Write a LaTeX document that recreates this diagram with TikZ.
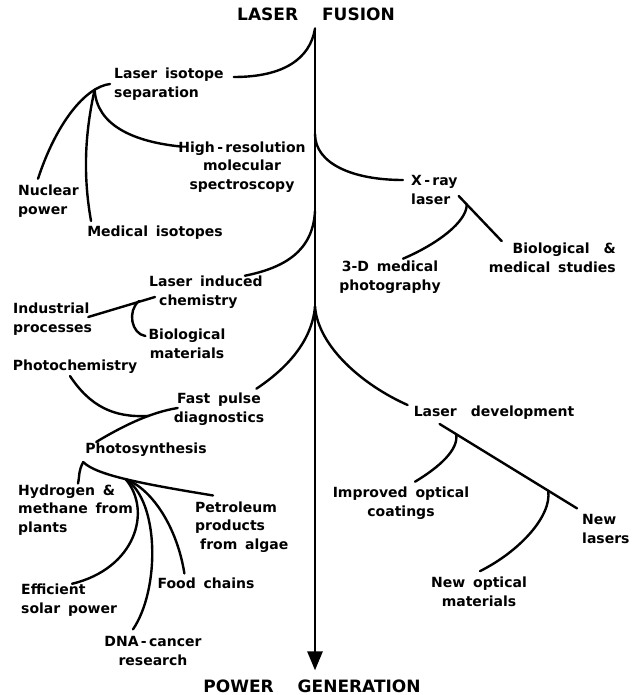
\documentclass[tikz,border=0pt]{standalone}
\usepackage{fontspec}
\setmainfont{DejaVu Sans}[WordSpace=1.6]
\usetikzlibrary{arrows.meta,calc}

\begin{document}
\begin{tikzpicture}[x=1pt,y=-1pt,line width=2.4pt,line cap=round,
    >={Triangle[length=19pt,width=15pt]},
    app node/.style={font=\fontsize{14}{18.5}\selectfont\bfseries,inner sep=1pt},
    end node/.style={font=\fontsize{17}{20}\selectfont\bfseries,inner sep=2pt}]

  \useasboundingbox (0,0) rectangle (639,695);

  \node[end node] (fusion) at (316,14) {LASER\hspace{24pt}FUSION};
  \node[end node] (power) at (312,686) {POWER\hspace{24pt}GENERATION};

  \node[app node,anchor=west,align=left] (lis) at (112,84) {Laser isotope\\separation};
  \node[app node,anchor=west,align=left] (nuc) at (16,201) {Nuclear\\power};
  \node[app node] (med) at (155,233) {Medical isotopes};
  \node[app node,align=center] (hres) at (242,167) {High\,-\,resolution\\molecular\\spectroscopy};
  \node[app node,anchor=west,align=left] (xray) at (409,190) {X\,-\,ray\\laser};
  \node[app node,align=center] (phot3d) at (390,277) {3-D medical\\photography};
  \node[app node,anchor=east,align=right] (bio) at (618,258) {Biological\quad\&\\medical studies};
  \node[app node,anchor=west,align=left] (lic) at (147,292) {Laser induced\\\hspace*{10pt}chemistry};
  \node[app node,anchor=west,align=left] (ind) at (11,319) {Industrial\\processes};
  \node[app node,align=center] (biom) at (187,344) {Biological\\materials};
  \node[app node] (photochem) at (75,367) {Photochemistry};
  \node[app node,align=center] (fpd) at (219,409) {Fast pulse\\diagnostics};
  \node[app node] (psyn) at (146,450) {Photosynthesis};
  \node[app node,anchor=west,align=left] (hyd) at (16,510) {Hydrogen \&\\methane from\\plants};
  \node[app node,anchor=west,align=left] (petro) at (193,527) {Petroleum\\products\\\hspace*{5pt}from algae};
  \node[app node] (food) at (206,583) {Food chains};
  \node[app node,anchor=west,align=left] (eff) at (19,600) {Efficient\\solar power};
  \node[app node,align=center] (dna) at (153,651) {DNA\,-\,cancer\\research};
  \node[app node] (ldev) at (494,413) {Laser\hspace{14pt}development};
  \node[app node,align=center] (ioc) at (401,503) {Improved optical\\coatings};
  \node[app node,anchor=west,align=left] (newl) at (580,529) {New\\lasers};
  \node[app node,align=center] (nom) at (479,592) {New optical\\materials};

  % main line
  \coordinate (top) at ($(fusion.south)+(-1,5)$);
  \coordinate (tip) at ($(top |- power.north)+(0,-6)$);
  \draw[line width=2.8pt,->] (top) -- (tip)
    coordinate[pos=.164] (xfork) coordinate[pos=.284] (cfork) coordinate[pos=.433] (dfork);

  % isotope separation
  \draw (top) .. controls +(-5,30) and +(50,0) .. ($(lis.east)+(8,-7)$);
  \draw ($(lis.west)+(-2,0)$) .. controls +(-25,3) and +(18,-55) .. ($(nuc.north west)+(22,-4)$)
    coordinate[pos=.2] (lisfork);
  \draw (lisfork) .. controls +(-10,45) and +(-8,-45) .. ($(med.north west)+(6,-3)$);
  \draw (lisfork) .. controls +(2,35) and +(-48,-5) .. ($(hres.north west)+(4,7)$);

  % x-ray laser
  \draw (xfork) .. controls +(0,30) and +(-50,0) .. ($(xray.west)+(-6,-10)$);
  \draw ($(xray.south east)+(7,-2)$) .. controls +(0,17) and +(35,-15) .. ($(phot3d.north)+(13,0)$);
  \draw ($(xray.east)+(-1,6)$) -- ($(bio.north west)+(15,0)$);

  % laser induced chemistry
  \draw (cfork) .. controls +(-2,40) and +(40,-8) .. ($(lic.north east)+(-20,2)$);
  \draw ($(lic.west)+(8,5)$) -- ($(ind.east)+(-6,-2)$);
  \draw ($(lic.west)+(-8,9)$) .. controls +(-12,10) and +(-14,-2) .. ($(biom.west)+(-1,-8)$);

  % fast pulse diagnostics
  \draw (dfork) .. controls +(-3,35) and +(30,-20) .. ($(fpd.north east)+(-10,-2)$);
  \draw ($(psyn.north west)+(13,1)$) .. controls +(30,-18) and +(-25,4) .. ($(fpd.west)+(6,-1)$)
    coordinate[pos=.62] (pfork);
  \draw ($(photochem.south)+(-5,0)$) .. controls +(20,30) and +(-35,2) .. (pfork);

  % photosynthesis
  \coordinate (phub) at ($(psyn.south west)+(0,3)$);
  \draw (phub) .. controls +(-5,10) and +(2,-10) .. ($(hyd.north west)+(62,1)$);
  \draw (phub) .. controls +(13,13) and +(-73,-12) .. ($(petro.north west)+(20,-4)$)
    coordinate[pos=.5] (sfork);
  \draw (sfork) .. controls +(27,32) and +(63,-15) .. ($(eff.north west)+(53,2)$);
  \draw (sfork) .. controls +(34,22) and +(27,-40) .. ($(dna.north)+(-20,-5)$);
  \draw (sfork) .. controls +(27,10) and +(-7,-45) .. ($(food.north west)+(29,-2)$);

  % laser development
  \draw (dfork) .. controls +(3,40) and +(-45,-20) .. ($(ldev.west)+(-4,-8)$);
  \draw ($(ldev.south west)+(28,2)$) -- ($(newl.north west)+(-3,-4)$)
    coordinate[pos=.12] (ifork) coordinate[pos=.79] (nfork);
  \draw (ifork) .. controls +(3,15) and +(25,-15) .. ($(ioc.north)+(14,-3)$);
  \draw (nfork) .. controls +(4,25) and +(40,-20) .. ($(nom.north)+(1,-4)$);

\end{tikzpicture}
\end{document}
